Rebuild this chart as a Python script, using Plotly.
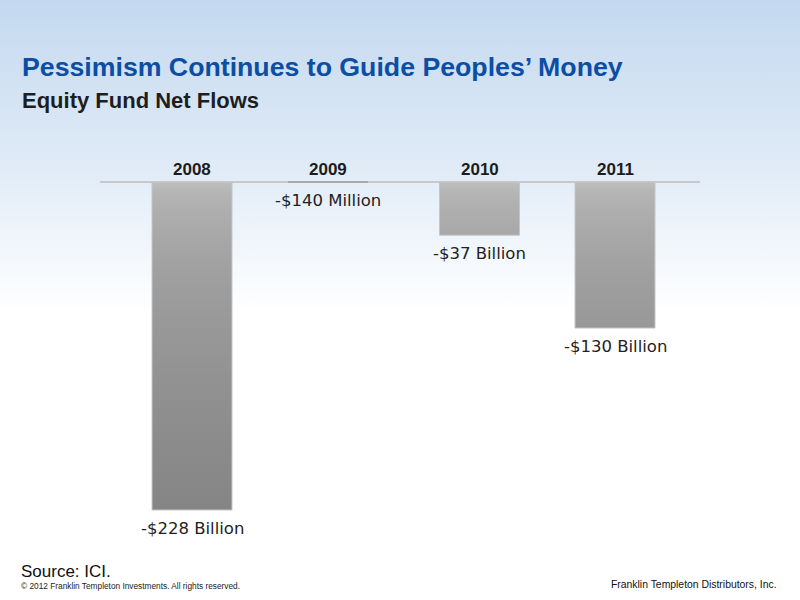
import base64
import plotly.graph_objects as go

# ---- data ----
years = ["2008", "2009", "2010", "2011"]
net_flows = [-228, -0.14, -37, -101.5]          # bar lengths as drawn (US$ billions)
flow_labels = ["-$228 Billion", "-$140 Million", "-$37 Billion", "-$130 Billion"]

title_text = "Pessimism Continues to Guide Peoples\u2019 Money"
subtitle_text = "Equity Fund Net Flows"
source_text = "Source: ICI."
copyright_text = "\u00a9 2012 Franklin Templeton Investments. All rights reserved."
company_text = "Franklin Templeton Distributors, Inc."

# ---- layout / style settings ----
W, H = 800, 600
ML, MR, MT, MB = 100, 100, 150, 40
PW, PH = W - ML - MR, H - MT - MB
PX_PER_SLOT = 141.0                      # pixels between bar slots
BAR_WIDTH = 80 / PX_PER_SLOT             # bar width in slot units
SLOT_NUDGE_PX = [0, -5, 5.5, 0]          # small horizontal placement tweaks (pixels)
BAR_EDGE = ["#c6c6c6", "#9e9e9e", "#c6c6c6", "#c6c6c6"]


def px_x(px):
    return (px - ML) / PW


def px_y(py):
    return (H - MB - py) / PH


NARROW = "Liberation Sans, Arial, sans-serif"
SANS = "Liberation Sans, Arial, Helvetica, sans-serif"
LABEL = "DejaVu Sans, Verdana, sans-serif"

# gray gradient for the bars (dark at the deepest value, light at zero)
grad_stops = []
for d in [0, 0.03, 0.08, 0.16, 0.28, 0.42, 0.6, 0.8, 1.0]:
    g = int(round(191 - 58 * d ** 0.5))
    grad_stops.append([1 - d, "rgb(%d,%d,%d)" % (g, g, g)])
grad_stops.sort(key=lambda s: s[0])

fig = go.Figure()
centers = [i + n / PX_PER_SLOT for i, n in enumerate(SLOT_NUDGE_PX)]
h = BAR_WIDTH / 2
for c, v, edge in zip(centers, net_flows, BAR_EDGE):
    fig.add_trace(go.Scatter(
        x=[c - h, c + h, c + h, c - h, c - h],
        y=[0, 0, v, v, 0],
        mode="lines", fill="toself",
        fillgradient=dict(type="vertical", colorscale=grad_stops,
                          start=min(net_flows), stop=0),
        line=dict(color=edge, width=1 if edge != "#9e9e9e" else 1.5),
        hoverinfo="skip",
    ))

# background gradient (svg image)
svg = (
    '<svg xmlns="http://www.w3.org/2000/svg" width="10" height="600" preserveAspectRatio="none">'
    '<defs><linearGradient id="g" x1="0" y1="0" x2="0" y2="1">'
    '<stop offset="0" stop-color="#c4d9ef"/>'
    '<stop offset="0.25" stop-color="#dde9f6"/>'
    '<stop offset="0.52" stop-color="#ffffff"/>'
    '<stop offset="1" stop-color="#ffffff"/>'
    '</linearGradient></defs>'
    '<rect width="10" height="600" fill="url(#g)"/></svg>'
)
bg_src = "data:image/svg+xml;base64," + base64.b64encode(svg.encode()).decode()

annotations = []
# year labels above zero line
for c, yr in zip(centers, years):
    annotations.append(dict(
        x=c, y=0, xref="x", yref="y", text="<b>%s</b>" % yr, showarrow=False,
        yanchor="bottom", yshift=1,
        font=dict(family=NARROW, size=17, color="#1c1c1c"),
    ))
# value labels below bars
for c, v, lab in zip(centers, net_flows, flow_labels):
    annotations.append(dict(
        x=c, y=v, xref="x", yref="y", text=lab, showarrow=False,
        yanchor="top", yshift=-7,
        font=dict(family=LABEL, size=16.5, color="#222222"),
    ))

annotations += [
    dict(x=px_x(20), y=px_y(67), xref="paper", yref="paper", text="<b>%s</b>" % title_text,
         showarrow=False, xanchor="left", yanchor="middle",
         font=dict(family=SANS, size=26.7, color="#0b4ea4")),
    dict(x=px_x(20), y=px_y(101), xref="paper", yref="paper", text="<b>%s</b>" % subtitle_text,
         showarrow=False, xanchor="left", yanchor="middle",
         font=dict(family=SANS, size=22, color="#1e1e1e")),
    dict(x=px_x(19), y=px_y(571), xref="paper", yref="paper", text=source_text,
         showarrow=False, xanchor="left", yanchor="middle",
         font=dict(family=SANS, size=17, color="#111111")),
    dict(x=px_x(19), y=px_y(586), xref="paper", yref="paper", text=copyright_text,
         showarrow=False, xanchor="left", yanchor="middle",
         font=dict(family=NARROW, size=8.3, color="#222222")),
    dict(x=px_x(779), y=px_y(584), xref="paper", yref="paper", text=company_text,
         showarrow=False, xanchor="right", yanchor="middle",
         font=dict(family=NARROW, size=10.4, color="#111111")),
]

px_per_b = 328 / 228.0

fig.update_layout(
    width=W, height=H, autosize=False,
    margin=dict(l=ML, r=MR, t=MT, b=MB, pad=0),
    paper_bgcolor="#ffffff",
    plot_bgcolor="rgba(0,0,0,0)",
    showlegend=False,
    xaxis=dict(
        visible=False,
        range=[-(192 - ML) / PX_PER_SLOT, 3 + (W - MR - 615) / PX_PER_SLOT],
        fixedrange=True,
    ),
    yaxis=dict(
        range=[-(H - MB - 182) / px_per_b, (182 - MT) / px_per_b],
        showgrid=False, showticklabels=False, ticks="",
        zeroline=True, zerolinecolor="#c9c9c9", zerolinewidth=2,
        showline=False, fixedrange=True,
    ),
    annotations=annotations,
    images=[dict(
        source=bg_src, xref="paper", yref="paper",
        x=px_x(0), y=px_y(0), sizex=W / PW, sizey=H / PH,
        xanchor="left", yanchor="top", sizing="stretch", layer="below",
    )],
)

fig.write_html("out.html", config={"displayModeBar": False},
               post_script="document.body.style.margin='0';")
